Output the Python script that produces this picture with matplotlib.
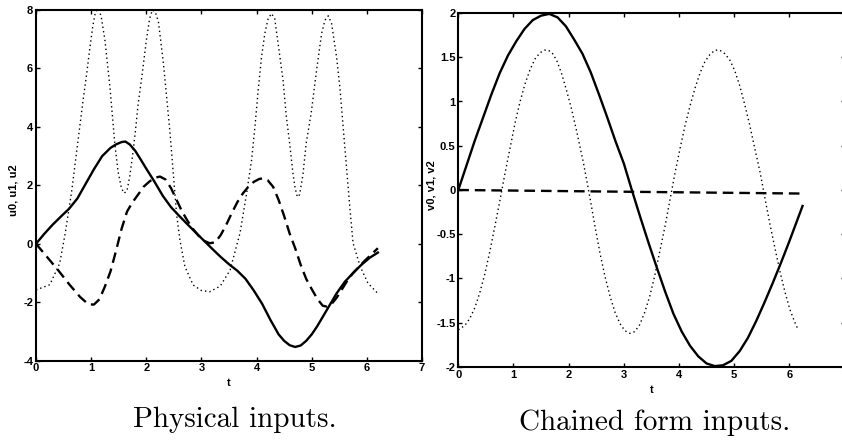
import matplotlib
matplotlib.use("Agg")
import matplotlib.pyplot as plt

plt.rcParams['font.family'] = 'Liberation Sans'
plt.rcParams['font.weight'] = 'bold'
plt.rcParams['axes.unicode_minus'] = False

# Physical inputs u0 (solid), u1 (dashed), u2 (dotted)
t_u0 = [0, 0.15, 0.3, 0.45, 0.6, 0.75, 0.9, 1.05, 1.2, 1.35, 1.45, 1.55, 1.62, 1.7, 1.8,
        1.9, 2.0, 2.15, 2.3, 2.45, 2.6, 2.75, 2.9, 3.05, 3.2, 3.35, 3.5, 3.65, 3.8,
        3.95, 4.1, 4.25, 4.4, 4.5, 4.6, 4.7, 4.8, 4.9, 5.0, 5.1, 5.2, 5.3, 5.45, 5.6,
        5.75, 5.9, 6.05, 6.2]
u0 = [0, 0.34, 0.65, 0.93, 1.2, 1.55, 2.05, 2.55, 3.0, 3.28, 3.4, 3.48, 3.5, 3.4, 3.18,
      2.88, 2.57, 2.12, 1.64, 1.25, 0.95, 0.66, 0.38, 0.1, -0.18, -0.45, -0.7, -0.92,
      -1.2, -1.6, -2.05, -2.6, -3.1, -3.32, -3.47, -3.53, -3.48, -3.32, -3.1, -2.82,
      -2.5, -2.18, -1.7, -1.3, -1.0, -0.72, -0.48, -0.3]

t_u1 = [0, 0.2, 0.4, 0.6, 0.8, 0.95, 1.05, 1.15, 1.25, 1.35, 1.45, 1.55, 1.65, 1.75,
        1.85, 1.95, 2.05, 2.15, 2.25, 2.35, 2.45, 2.55, 2.65, 2.75, 2.85, 2.95, 3.05,
        3.15, 3.25, 3.35, 3.45, 3.55, 3.65, 3.75, 3.85, 3.95, 4.05, 4.13, 4.2, 4.3,
        4.4, 4.5, 4.6, 4.7, 4.8, 4.9, 5.0, 5.1, 5.2, 5.28, 5.36, 5.45, 5.55, 5.65,
        5.75, 5.85, 5.95, 6.05, 6.2]
u1 = [0, -0.45, -0.9, -1.38, -1.82, -2.07, -2.08, -1.9, -1.46, -0.95, -0.25, 0.5, 1.1,
      1.42, 1.68, 1.95, 2.12, 2.26, 2.3, 2.2, 1.9, 1.5, 1.1, 0.78, 0.5, 0.27, 0.1,
      0.02, 0.05, 0.3, 0.65, 1.05, 1.42, 1.72, 1.95, 2.12, 2.22, 2.24, 2.18, 1.95,
      1.5, 0.95, 0.35, -0.15, -0.72, -1.2, -1.55, -1.88, -2.12, -2.15, -2.06, -1.85,
      -1.55, -1.25, -1.0, -0.8, -0.6, -0.42, -0.15]

t_u2 = [0, 0.25, 0.43, 0.53, 0.65, 0.74, 0.8, 0.86, 0.92, 0.97, 1.03, 1.08, 1.13, 1.18,
        1.25, 1.34, 1.43, 1.49, 1.55, 1.6, 1.65, 1.7, 1.75, 1.8, 1.85, 1.92, 2.0, 2.06,
        2.11, 2.16, 2.22, 2.31, 2.37, 2.43, 2.49, 2.55, 2.61, 2.7, 2.85, 3.0, 3.15,
        3.34, 3.52, 3.7, 3.82, 3.91, 3.97, 4.03, 4.09, 4.15, 4.21, 4.27, 4.33, 4.39,
        4.48, 4.54, 4.6, 4.66, 4.7, 4.74, 4.78, 4.84, 4.9, 4.99, 5.09, 5.18, 5.24,
        5.3, 5.36, 5.45, 5.51, 5.57, 5.63, 5.69, 5.75, 5.88, 6.02, 6.2]
u2 = [-1.58, -1.4, -0.67, 0.36, 1.84, 3.2, 4.1, 5.0, 5.83, 6.6, 7.45, 7.95, 8.05, 7.8,
      6.97, 5.38, 3.4, 2.45, 1.9, 1.73, 1.82, 2.3, 3.0, 3.8, 4.75, 5.72, 6.95, 7.7,
      8.0, 7.95, 7.6, 6.18, 5.0, 3.8, 2.4, 1.0, 0.13, -0.78, -1.41, -1.6, -1.64,
      -1.45, -0.9, 0.37, 1.73, 2.87, 4.0, 5.27, 6.4, 7.2, 7.7, 7.88, 7.7, 6.86,
      5.6, 4.35, 3.44, 2.4, 1.9, 1.6, 1.68, 2.35, 3.44, 4.47, 5.97, 7.2, 7.65,
      7.8, 7.54, 6.4, 5.37, 4.0, 2.64, 1.27, 0.02, -0.78, -1.35, -1.7]

# Chained form inputs v0 (solid), v1 (dashed), v2 (dotted)
t_v0 = [0, 0.15, 0.3, 0.45, 0.6, 0.75, 0.9, 1.05, 1.2, 1.35, 1.5, 1.65, 1.8, 1.95, 2.1,
        2.25, 2.4, 2.55, 2.7, 2.85, 3.0, 3.15, 3.3, 3.45, 3.6, 3.75, 3.9, 4.05, 4.2,
        4.35, 4.5, 4.65, 4.8, 4.95, 5.1, 5.25, 5.4, 5.55, 5.7, 5.85, 6.0, 6.15, 6.24]
v0 = [0, 0.28, 0.56, 0.82, 1.08, 1.32, 1.52, 1.68, 1.82, 1.92, 1.97, 1.99, 1.95, 1.85,
      1.7, 1.54, 1.33, 1.08, 0.82, 0.55, 0.3, -0.01, -0.31, -0.6, -0.88, -1.15, -1.4,
      -1.6, -1.76, -1.88, -1.96, -1.99, -1.98, -1.93, -1.82, -1.67, -1.48, -1.27,
      -1.05, -0.82, -0.58, -0.33, -0.18]

t_v1 = [0, 6.2]
v1 = [0, -0.04]

t_v2 = [0, 0.12, 0.21, 0.3, 0.39, 0.48, 0.57, 0.66, 0.76, 0.85, 0.94, 1.03, 1.12, 1.21,
        1.3, 1.39, 1.48, 1.56, 1.63, 1.7, 1.78, 1.87, 1.96, 2.05, 2.14, 2.27, 2.39,
        2.48, 2.57, 2.66, 2.75, 2.84, 2.93, 3.02, 3.11, 3.2, 3.29, 3.38, 3.47, 3.56,
        3.65, 3.75, 3.84, 3.93, 4.02, 4.11, 4.2, 4.29, 4.38, 4.47, 4.56, 4.65, 4.74,
        4.83, 4.92, 5.01, 5.1, 5.19, 5.28, 5.37, 5.47, 5.56, 5.65, 5.74, 5.83, 5.92,
        6.01, 6.09, 6.16]
v2 = [-1.58, -1.53, -1.45, -1.33, -1.16, -0.95, -0.7, -0.42, -0.1, 0.2, 0.48, 0.76, 1.0,
      1.2, 1.36, 1.48, 1.55, 1.58, 1.58, 1.55, 1.47, 1.32, 1.13, 0.92, 0.68, 0.3,
      -0.1, -0.42, -0.72, -0.98, -1.2, -1.38, -1.51, -1.59, -1.62, -1.6, -1.52,
      -1.38, -1.2, -0.97, -0.7, -0.4, -0.1, 0.2, 0.47, 0.73, 0.95, 1.15, 1.32, 1.45,
      1.53, 1.58, 1.58, 1.54, 1.47, 1.35, 1.18, 0.97, 0.74, 0.48, 0.2, -0.1, -0.39,
      -0.66, -0.92, -1.15, -1.35, -1.48, -1.58]

x_ticks_left = [0, 1, 2, 3, 4, 5, 6, 7]
x_ticks_right = [0, 1, 2, 3, 4, 5, 6]
u_ticks = [-4, -2, 0, 2, 4, 6, 8]
v_ticks = [-2, -1.5, -1, -0.5, 0, 0.5, 1, 1.5, 2]
v_tick_labels = ['-2', '-1.5', '-1', '-0.5', '0', '0.5', '1', '1.5', '2']


def style_axes(ax):
    for sp in ax.spines.values():
        sp.set_linewidth(1.5)
    ax.tick_params(direction='in', length=3, width=1, top=True, right=True,
                   labelsize=8, pad=2)
    for lbl in ax.get_xticklabels() + ax.get_yticklabels():
        lbl.set_fontweight('bold')


fig = plt.figure(figsize=(8.42, 4.44), dpi=100)

ax1 = fig.add_axes([36 / 842, 83.3 / 444, 386 / 842, 350.7 / 444])
ax1.plot(t_u0, u0, color='black', lw=1.7)
ax1.plot(t_u1, u1, color='black', lw=1.7, linestyle=(0, (4.5, 2.5)))
ax1.plot(t_u2, u2, color='black', lw=1.0, linestyle=(0, (1, 2.2)))
ax1.set_xlim(0, 7)
ax1.set_ylim(-4, 8)
ax1.set_xticks(x_ticks_left)
ax1.set_yticks(u_ticks)
style_axes(ax1)
ax1.set_xlabel('t', fontsize=8, fontweight='bold')
ax1.xaxis.set_label_coords(0.5, -0.05)
ax1.set_ylabel('u0, u1, u2', fontsize=8, fontweight='bold')
ax1.yaxis.set_label_coords(-0.045, 0.487)

ax2 = fig.add_axes([458.3 / 842, 77 / 444, 386.2 / 842, 354 / 444])
ax2.plot(t_v0, v0, color='black', lw=1.7)
ax2.plot(t_v1, v1, color='black', lw=1.7, linestyle=(0, (4.5, 2.5)))
ax2.plot(t_v2, v2, color='black', lw=1.0, linestyle=(0, (1, 2.2)))
ax2.set_xlim(0, 7)
ax2.set_ylim(-2, 2)
ax2.set_xticks(x_ticks_right)
ax2.set_yticks(v_ticks)
ax2.set_yticklabels(v_tick_labels)
style_axes(ax2)
ax2.set_xlabel('t', fontsize=8, fontweight='bold')
ax2.xaxis.set_label_coords(0.5, -0.05)
ax2.set_ylabel('v0, v1, v2', fontsize=8, fontweight='bold')
ax2.yaxis.set_label_coords(-0.057, 0.514)

# captions under each panel
fig.text(235 / 842, 1 - 427 / 444, 'Physical inputs.', ha='center', va='baseline',
         family='cmr10', fontweight='normal', fontsize=21)
fig.text(655 / 842, 1 - 430 / 444, 'Chained form inputs.', ha='center', va='baseline',
         family='cmr10', fontweight='normal', fontsize=21)

fig.savefig('out.png', dpi=100)
